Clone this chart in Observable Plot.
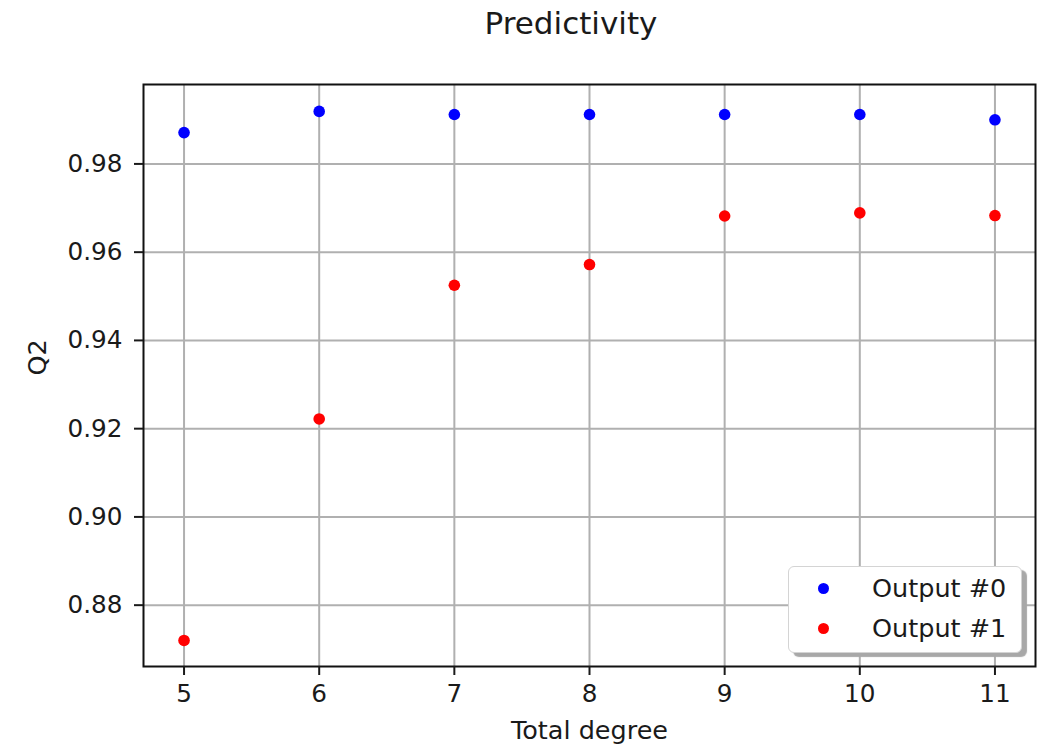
<!DOCTYPE html>
<html><head><meta charset="utf-8">
<script src="https://cdn.jsdelivr.net/npm/d3@7"></script>
<script src="https://cdn.jsdelivr.net/npm/@observablehq/plot@0.6"></script>
<style>
body{margin:0;background:#fff;font-family:"DejaVu Sans",sans-serif;color:#1a1a1a;}
#wrap{position:relative;width:1037px;height:749px;overflow:hidden;background:#fff}
#title{height:57px;padding-top:3px;line-height:40px;font-size:31px;text-align:center;padding-left:105px;white-space:nowrap}
#legend{position:absolute;left:788px;top:566px;width:234px;height:87px;box-sizing:border-box;border:1.5px solid #d4d4d4;border-radius:6px;background:#fff;box-shadow:5px 4px 1px #a8a8a8}
.li{position:absolute;left:0;height:30px;line-height:30px;font-size:25.5px;white-space:nowrap}
.ld{position:absolute;left:29px;top:9.5px;width:11px;height:11px;border-radius:50%}
.lt{position:absolute;left:83px;top:0}
</style>
</head><body>
<div id="wrap">
  <div id="title"></div>
  <div id="chart"></div>
  <div id="legend"></div>
</div>
<script>
const chartTitle = "Predictivity";
const xLabel = "Total degree";
const yLabel = "Q2";
const degrees = [5, 6, 7, 8, 9, 10, 11];
const q2Output0 = [0.9871, 0.9919, 0.9912, 0.9912, 0.9912, 0.9912, 0.9900];
const q2Output1 = [0.8720, 0.9222, 0.9525, 0.9572, 0.9682, 0.9689, 0.9683];
const seriesNames = ["Output #0", "Output #1"];
const seriesColors = ["#0000ff", "#ff0000"];
const xTicks = [5, 6, 7, 8, 9, 10, 11];
const yTicks = [0.88, 0.90, 0.92, 0.94, 0.96, 0.98];

const seriesValues = [q2Output0, q2Output1];
const table = [];
seriesValues.forEach((vals, s) => vals.forEach((v, i) => table.push({degree: degrees[i], q2: v, series: seriesNames[s]})));

document.getElementById("title").textContent = chartTitle;

const chart = Plot.plot({
  width: 1037,
  height: 689,
  marginLeft: 143,
  marginRight: 2,
  marginTop: 24,
  marginBottom: 83,
  style: {fontFamily: "DejaVu Sans, sans-serif", fontSize: "24.7px", color: "#1a1a1a", background: "transparent"},
  x: {domain: [4.7, 11.3]},
  y: {domain: [0.8661, 0.9980]},
  color: {domain: seriesNames, range: seriesColors},
  marks: [
    Plot.gridX(xTicks, {stroke: "#b0b0b0", strokeOpacity: 1, strokeWidth: 2}),
    Plot.gridY(yTicks, {stroke: "#b0b0b0", strokeOpacity: 1, strokeWidth: 2}),
    Plot.dot(table, {x: "degree", y: "q2", fill: "series", r: 5.8, stroke: "none"}),
    Plot.frame({stroke: "#111", strokeWidth: 2}),
    Plot.axisX({ticks: xTicks, tickSize: 9, tickPadding: 9, strokeWidth: 2, label: null, tickFormat: d => String(d)}),
    Plot.axisY({ticks: yTicks, tickSize: 9, tickPadding: 12, strokeWidth: 2, label: null, tickFormat: d3.format(".2f")}),
    Plot.text([xLabel], {text: d => d, frameAnchor: "bottom", dy: 72, lineAnchor: "bottom", fontSize: 25.5}),
    Plot.text([yLabel], {text: d => d, frameAnchor: "left", dx: -106, rotate: -90, lineAnchor: "middle", fontSize: 25.5})
  ]
});
document.getElementById("chart").appendChild(chart);

const legend = document.getElementById("legend");
seriesNames.forEach((name, i) => {
  const row = document.createElement("div");
  row.className = "li";
  row.style.top = (6 + i * 40) + "px";
  row.style.width = "230px";
  const dot = document.createElement("div");
  dot.className = "ld";
  dot.style.background = seriesColors[i];
  const txt = document.createElement("div");
  txt.className = "lt";
  txt.textContent = name;
  row.appendChild(dot);
  row.appendChild(txt);
  legend.appendChild(row);
});
</script>
</body></html>
